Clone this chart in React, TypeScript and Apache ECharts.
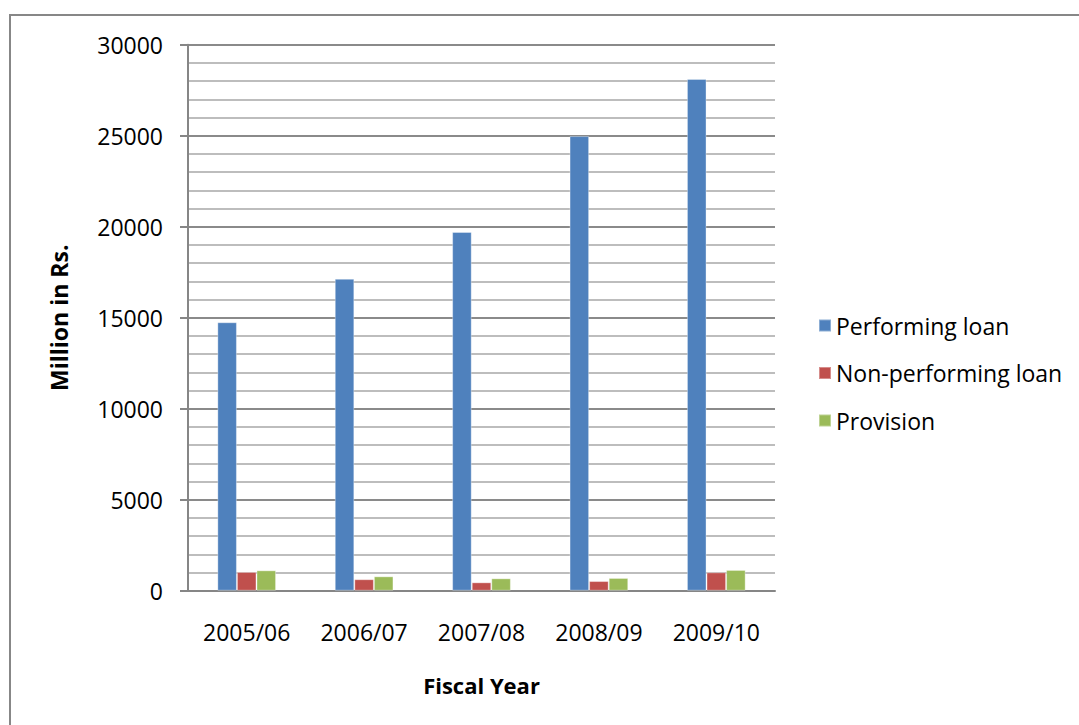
import React, { useEffect, useRef } from "react";
import * as echarts from "echarts";

const categories = ["2005/06", "2006/07", "2007/08", "2008/09", "2009/10"];
const performingLoan = [14750, 17140, 19710, 24980, 28120];
const nonPerformingLoan = [1030, 630, 460, 530, 1010];
const provision = [1120, 790, 680, 700, 1140];

const FONT = "'Open Sans', Lato, sans-serif";

export default function App() {
  const ref = useRef<HTMLDivElement>(null);

  useEffect(() => {
    if (!ref.current) return;
    const chart = echarts.init(ref.current, undefined, { renderer: "svg" });
    const barStyle = (color: string) => ({
      color,
      borderColor: "rgba(255,255,255,0.35)",
      borderWidth: 1,
    });
    chart.setOption({
      animation: false,
      backgroundColor: "#ffffff",
      textStyle: { fontFamily: FONT },
      graphic: [
        {
          type: "rect",
          shape: { x: 10, y: 15, width: 1200, height: 900 },
          style: { fill: "none", stroke: "#878787", lineWidth: 2 },
          silent: true,
        },
      ],
      grid: { left: 188, right: 304, top: 44.7, bottom: 134.3 },
      legend: {
        orient: "vertical",
        left: 818,
        top: 314,
        padding: 0,
        itemWidth: 12,
        itemHeight: 12,
        itemGap: 24.5,
        icon: "rect",
        textStyle: { fontSize: 23, color: "#000", fontFamily: FONT },
        data: ["Performing loan", "Non-performing loan", "Provision"],
      },
      xAxis: {
        type: "category",
        data: categories,
        name: "Fiscal Year",
        nameLocation: "middle",
        nameGap: 83,
        nameTextStyle: { fontSize: 22, fontWeight: "bold", color: "#000", fontFamily: FONT },
        axisLine: { lineStyle: { color: "#868686", width: 2 } },
        axisTick: { show: false },
        axisLabel: { fontSize: 23, color: "#000", margin: 30, fontFamily: FONT },
        splitLine: { show: false },
      },
      yAxis: {
        type: "value",
        min: 0,
        max: 30000,
        interval: 5000,
        name: "Million in Rs.",
        nameLocation: "middle",
        nameGap: 118,
        nameTextStyle: { fontSize: 23, fontWeight: "bold", color: "#000", fontFamily: FONT },
        axisLine: { show: true, lineStyle: { color: "#868686", width: 2 } },
        axisTick: { show: true, length: 8, lineStyle: { color: "#868686", width: 2 } },
        axisLabel: {
          fontSize: 23,
          color: "#000",
          margin: 25,
          fontFamily: FONT,
          formatter: (v: number) => String(v),
        },
        splitLine: { show: true, lineStyle: { color: "#8a8a8a", width: 2 } },
        minorTick: { show: false, splitNumber: 5 },
        minorSplitLine: { show: true, lineStyle: { color: "#bdbdbd", width: 2 } },
      },
      series: [
        {
          name: "Performing loan",
          type: "bar",
          data: performingLoan,
          barGap: "0%",
          barCategoryGap: "50%",
          itemStyle: barStyle("#4f81bd"),
        },
        {
          name: "Non-performing loan",
          type: "bar",
          data: nonPerformingLoan,
          itemStyle: barStyle("#c0504d"),
        },
        {
          name: "Provision",
          type: "bar",
          data: provision,
          itemStyle: barStyle("#9bbb59"),
        },
      ],
    });
    return () => chart.dispose();
  }, []);

  return (
    <div
      ref={ref}
      style={{ position: "fixed", left: 0, top: 0, width: 1079, height: 725 }}
    />
  );
}
